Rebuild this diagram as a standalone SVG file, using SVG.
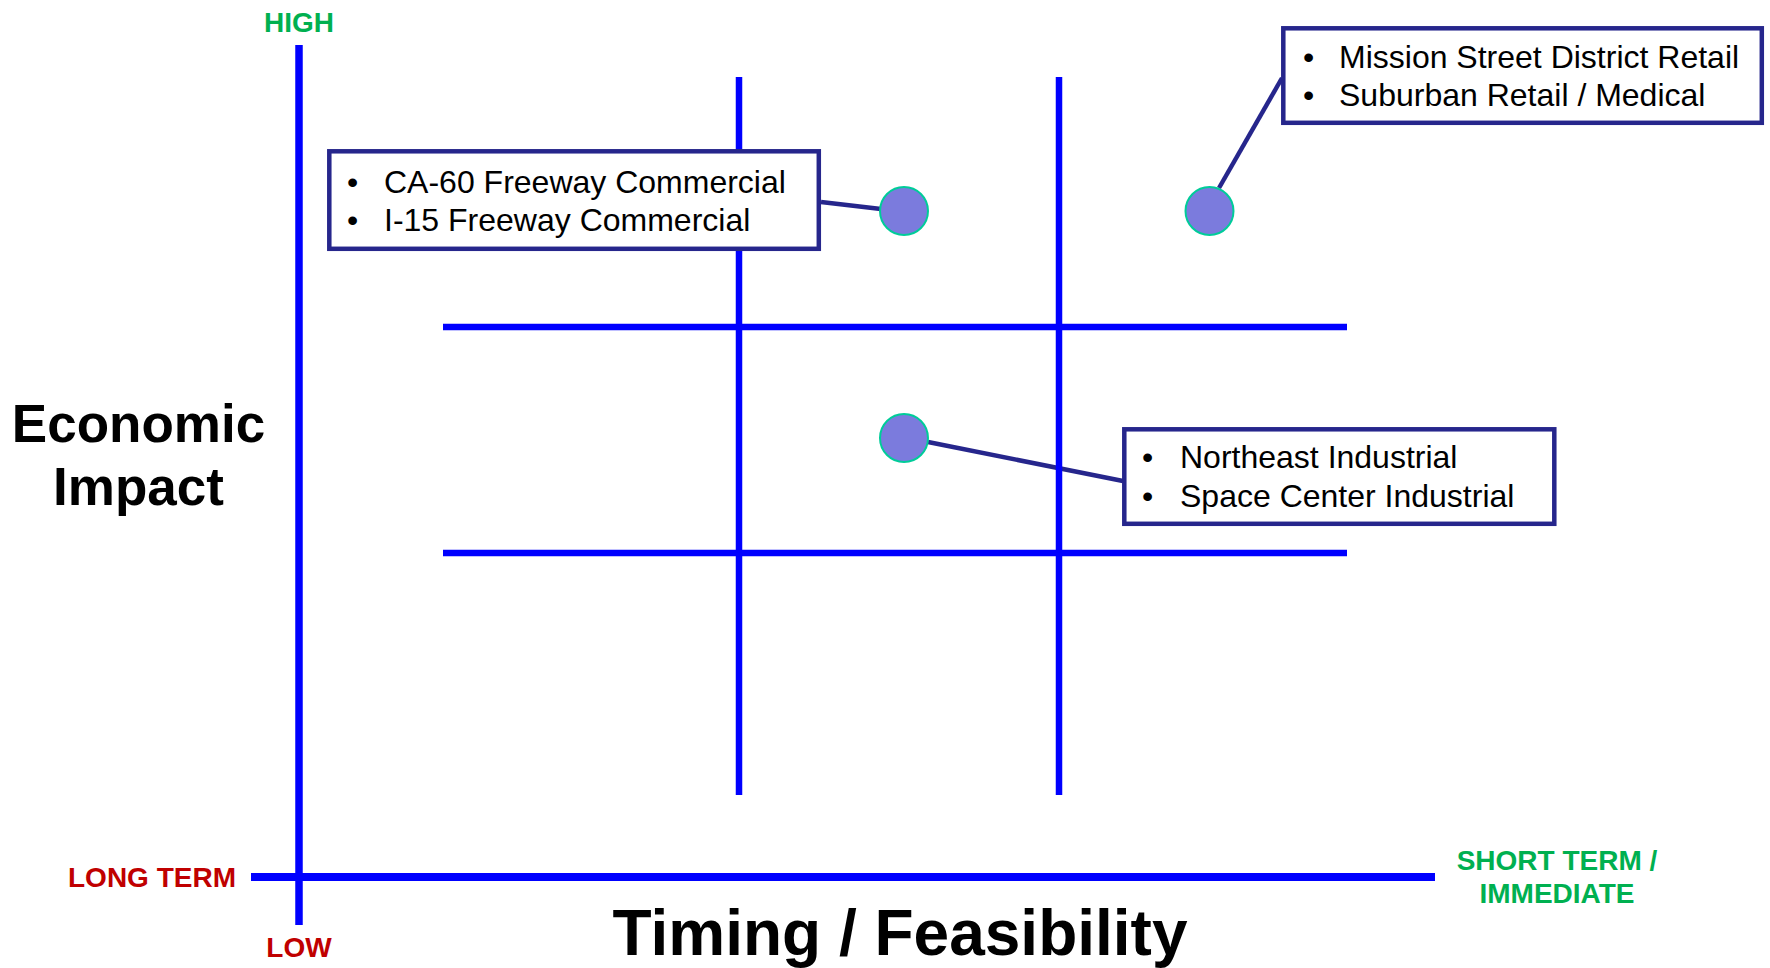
<svg xmlns="http://www.w3.org/2000/svg" width="1770" height="968" viewBox="0 0 1770 968">
<style>
.grid{stroke:#0000FF;stroke-width:6.5;fill:none}
.axis{stroke:#0000FF;fill:none}
.conn{stroke:#26268C;stroke-width:4.5;fill:none}
.box{fill:#FFFFFF;stroke:#26268C;stroke-width:4.5}
.dot{fill:#7B7BDD;stroke:#00CC99;stroke-width:2}
.item{font-family:"Liberation Sans",Arial,sans-serif;font-size:32px;fill:#000000}
.lbl{font-family:"Liberation Sans",Arial,sans-serif;font-size:28px;font-weight:bold}
.title{font-family:"Liberation Sans",Arial,sans-serif;font-weight:bold;fill:#000000}
</style>
<rect width="1770" height="968" fill="#FFFFFF"/>
<g id="connectors">
<line class="conn" x1="821" y1="202" x2="881" y2="209"/>
<line class="conn" x1="1219" y1="188" x2="1282" y2="78"/>
<line class="conn" x1="928" y1="442" x2="1123" y2="481"/>
</g>
<g id="grid">
<line class="grid" x1="739" y1="77" x2="739" y2="795"/>
<line class="grid" x1="1059" y1="77" x2="1059" y2="795"/>
<line class="grid" x1="443" y1="327" x2="1347" y2="327"/>
<line class="grid" x1="443" y1="553" x2="1347" y2="553"/>
</g>
<g id="axes">
<line class="axis" stroke-width="7.5" x1="299" y1="45" x2="299" y2="925"/>
<line class="axis" stroke-width="8" x1="251" y1="877" x2="1435" y2="877"/>
<text class="lbl" x="299" y="32" text-anchor="middle" fill="#00B050">HIGH</text>
<text class="lbl" x="299" y="957" text-anchor="middle" fill="#C00000">LOW</text>
<text class="lbl" x="236" y="887" text-anchor="end" fill="#C00000">LONG TERM</text>
<text class="lbl" x="1557" y="870" text-anchor="middle" fill="#00B050">SHORT TERM /</text>
<text class="lbl" x="1557" y="903" text-anchor="middle" fill="#00B050">IMMEDIATE</text>
<text class="title" x="138.5" y="442" font-size="53" text-anchor="middle">Economic</text>
<text class="title" x="138.5" y="505" font-size="53" text-anchor="middle">Impact</text>
<text class="title" x="900" y="955" font-size="64" text-anchor="middle">Timing / Feasibility</text>
</g>
<g id="box-freeway">
<rect class="box" x="329.3" y="151.3" width="489.5" height="97.5"/>
<text class="item" x="347" y="193">•</text>
<text class="item" x="384" y="193">CA-60 Freeway Commercial</text>
<text class="item" x="347" y="231">•</text>
<text class="item" x="384" y="231">I-15 Freeway Commercial</text>
</g>
<g id="box-mission">
<rect class="box" x="1283.3" y="28.3" width="478.5" height="94.5"/>
<text class="item" x="1303" y="68">•</text>
<text class="item" x="1339" y="68">Mission Street District Retail</text>
<text class="item" x="1303" y="106">•</text>
<text class="item" x="1339" y="106">Suburban Retail / Medical</text>
</g>
<g id="box-industrial">
<rect class="box" x="1124.3" y="429.3" width="430" height="94.5"/>
<text class="item" x="1142" y="468">•</text>
<text class="item" x="1180" y="468">Northeast Industrial</text>
<text class="item" x="1142" y="507">•</text>
<text class="item" x="1180" y="507">Space Center Industrial</text>
</g>
<g id="dot-freeway"><circle class="dot" cx="904" cy="211" r="24"/></g>
<g id="dot-mission"><circle class="dot" cx="1209.5" cy="211" r="24"/></g>
<g id="dot-industrial"><circle class="dot" cx="904" cy="438" r="24"/></g>
</svg>
